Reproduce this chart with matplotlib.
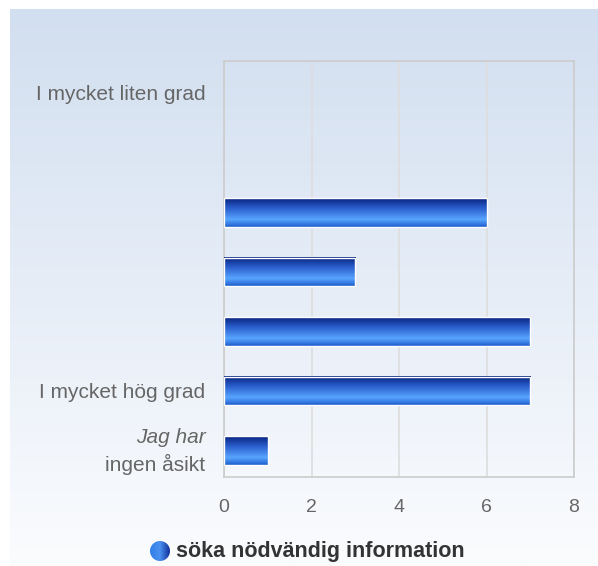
import numpy as np
import matplotlib
matplotlib.use("Agg")
import matplotlib.pyplot as plt
from matplotlib.colors import LinearSegmentedColormap
from matplotlib.patches import Rectangle, Circle

categories = ["I mycket liten grad", "", "", "", "", "I mycket hög grad", "Jag har\ningen åsikt"]
values = [0, 0, 6, 3, 7, 7, 1]
xticks = [0, 2, 4, 6, 8]
series_name = "söka nödvändig information"

plt.rcParams['font.family'] = ['Liberation Sans', 'DejaVu Sans']

W, H = 598, 566
fig = plt.figure(figsize=(W / 100, H / 100), dpi=100)

# background panel with gradient
bg = fig.add_axes([0, 0, 1, 1], zorder=0)
bg.set_xlim(0, W); bg.set_ylim(H, 0); bg.axis('off')
bgcmap = LinearSegmentedColormap.from_list('bg', ['#d2dff0', '#e6edf7', '#fbfcfe'])
grad = np.linspace(0, 1, 256).reshape(-1, 1)
bg.imshow(grad, cmap=bgcmap, extent=[10, W, H, 9], aspect='auto')

left, right, top, bottom = 224, 574, 61, 477
ax = fig.add_axes([left / W, 1 - bottom / H, (right - left) / W, (bottom - top) / H], zorder=1)
ax.patch.set_alpha(0)
n = len(categories)
y0, y1 = -0.546, 6.445
ax.set_xlim(0, 8)
ax.set_ylim(y1, y0)
ax.set_xticks(xticks)
ax.set_xticklabels([str(t) for t in xticks])
ax.tick_params(axis='x', length=0, pad=16, labelsize=14, labelcolor='#666666')
ax.set_yticks([])
for s in ax.spines.values():
    s.set_color('#cccccc')
    s.set_linewidth(1.2)
ax.grid(axis='x', color='#dddddd', linewidth=1.2)
ax.set_axisbelow(True)

barcmap = LinearSegmentedColormap.from_list('bar', [
    (0.0, '#08237e'), (0.35, '#2a5ecd'), (0.74, '#58a5ff'), (1.0, '#1d5ccc')])
bh = 0.48
for i, v in enumerate(values):
    if v <= 0:
        continue
    ax.imshow(grad, cmap=barcmap, extent=[0, v, i + bh / 2, i - bh / 2],
              aspect='auto', zorder=3, interpolation='bilinear')
    ax.add_patch(Rectangle((0, i - bh / 2), v, bh, fill=False,
                           edgecolor='white', linewidth=1.0, zorder=4))
ax.set_xlim(0, 8)
ax.set_ylim(y1, y0)

# category labels
lx = -0.42
for i, lab in enumerate(categories):
    if not lab:
        continue
    if '\n' in lab:
        l1, l2 = lab.split('\n')
        ax.text(lx, i - 0.22, l1, ha='right', va='center', fontsize=15,
                color='#666666', style='italic', clip_on=False)
        ax.text(lx, i + 0.23, l2, ha='right', va='center', fontsize=15,
                color='#666666', clip_on=False)
    else:
        ax.text(lx, i + 0.02, lab, ha='right', va='center', fontsize=15,
                color='#666666', clip_on=False)

# legend
cx, cy, r = 160, 551, 10
circ_img = np.linspace(0, 1, 256).reshape(1, -1)
lcmap = LinearSegmentedColormap.from_list('leg', ['#2f7fe6', '#4a90f0', '#10309a'])
im = bg.imshow(circ_img, cmap=lcmap, extent=[cx - r, cx + r, cy + r, cy - r],
               aspect='auto', zorder=2)
clip = Circle((cx, cy), r, transform=bg.transData)
im.set_clip_path(clip)
bg.text(176, 552, series_name, ha='left', va='center', fontsize=15.5,
        fontweight='bold', color='#333333')

fig.savefig('out.png', dpi=100)
